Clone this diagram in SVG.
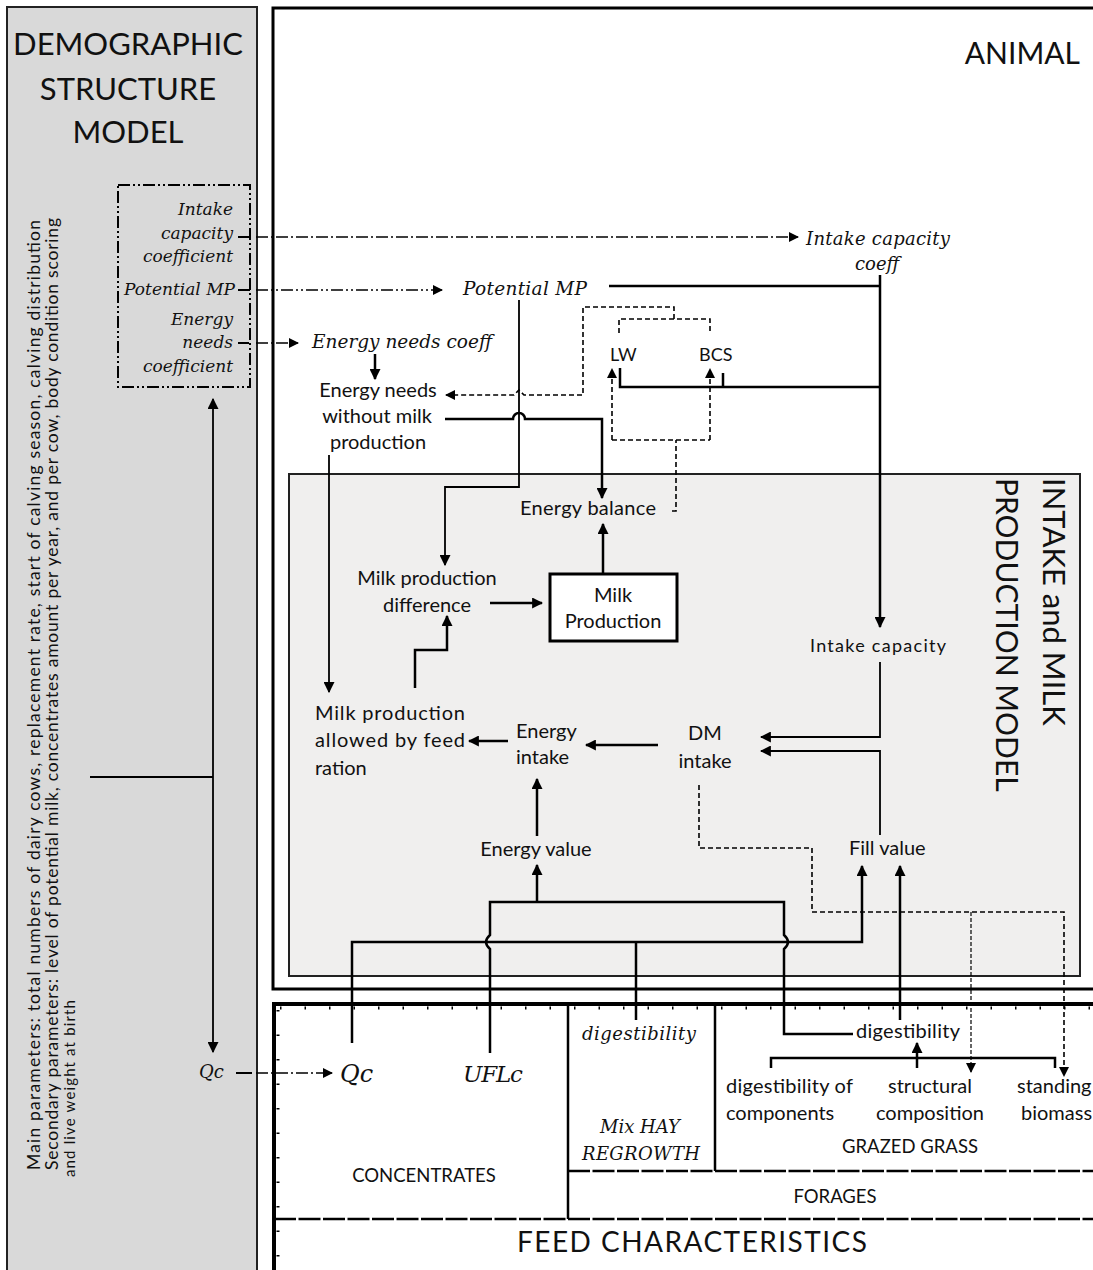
<svg xmlns="http://www.w3.org/2000/svg" width="1093" height="1270" viewBox="0 0 1093 1270">
  <style>
    .sans { font-family: Lato, "Liberation Sans", sans-serif; fill: #111; }
    .ital { font-family: "DejaVu Serif", "Liberation Serif", serif; font-style: italic; fill: #111; }
    .s20 { font-size: 20px; }
    .s18 { font-size: 18px; }
    .mid { text-anchor: middle; }
    .end { text-anchor: end; }
    .solid { fill: none; stroke: #000; stroke-width: 2.5; }
    .thin { fill: none; stroke: #000; stroke-width: 1.8; }
    .dash { fill: none; stroke: #000; stroke-width: 1.6; stroke-dasharray: 5 3; }
    .fine { fill: none; stroke: #000; stroke-width: 1.2; stroke-dasharray: 4 2; }
    .dotdash { fill: none; stroke: #000; stroke-width: 1.6; stroke-dasharray: 12 3 2 3 2 3; }
    .dot1 { fill: none; stroke: #000; stroke-width: 1.6; stroke-dasharray: 12 3 2 3; }
  </style>
  <defs>
    <marker id="arr" viewBox="0 0 10 10" refX="9" refY="5" markerWidth="11" markerHeight="11" markerUnits="userSpaceOnUse" orient="auto-start-reverse">
      <path d="M0,0 L10,5 L0,10 z" fill="#000"/>
    </marker>
    <marker id="arrs" viewBox="0 0 10 10" refX="9" refY="5" markerWidth="10" markerHeight="10" markerUnits="userSpaceOnUse" orient="auto">
      <path d="M0,0 L10,5 L0,10 z" fill="#000"/>
    </marker>
  </defs>

  <rect width="1093" height="1270" fill="#fff"/>

  <!-- Demographic structure panel -->
  <g id="demographic">
    <rect x="7" y="7" width="250" height="1290" fill="#d9d9d9" stroke="#222" stroke-width="2"/>
    <text class="sans" x="128" y="55" font-size="31" text-anchor="middle">DEMOGRAPHIC</text>
    <text class="sans" x="128" y="100" font-size="31" text-anchor="middle">STRUCTURE</text>
    <text class="sans" x="128" y="143" font-size="31" text-anchor="middle">MODEL</text>
    <text class="sans" font-size="17.5" transform="translate(40,1170) rotate(-90)" textLength="950">Main parameters: total numbers of dairy cows, replacement rate, start of calving season, calving distribution</text>
    <text class="sans" font-size="17.5" transform="translate(58,1170) rotate(-90)" textLength="952">Secondary parameters: level of potential milk, concentrates amount per year, and per cow, body condition scoring</text>
    <text class="sans" font-size="15" transform="translate(75,1177) rotate(-90)" textLength="177">and live weight at birth</text>
  </g>

  <!-- Coefficients box -->
  <g id="coefficients">
    <rect x="118" y="185" width="132" height="202" fill="none" stroke="#000" stroke-width="2" stroke-dasharray="12 3 2 3 2 3"/>
    <text class="ital end" font-size="17" x="233" y="215">Intake</text>
    <text class="ital end" font-size="17" x="233" y="239">capacity</text>
    <text class="ital end" font-size="17" x="233" y="262">coefficient</text>
    <text class="ital end" font-size="17" x="235" y="295">Potential MP</text>
    <text class="ital end" font-size="17" x="233" y="325">Energy</text>
    <text class="ital end" font-size="17" x="233" y="348">needs</text>
    <text class="ital end" font-size="17" x="233" y="372">coefficient</text>
  </g>

  <g id="qc-left">
    <text class="ital" font-size="18" x="199" y="1078">Qc</text>
  </g>

  <!-- Animal frame -->
  <g id="animal">
    <rect x="273" y="8" width="830" height="981" fill="#fff" stroke="#000" stroke-width="3"/>
    <text class="sans" x="1080" y="64" font-size="30" text-anchor="end">ANIMAL</text>
  </g>

  <!-- Intake and milk production model frame -->
  <g id="intake-model">
    <rect x="289" y="474" width="791" height="502" fill="#f0efee" stroke="#222" stroke-width="2"/>
    <text class="sans" font-size="31" transform="translate(1043,478) rotate(90)">INTAKE and MILK</text>
    <text class="sans" font-size="30" transform="translate(996,478) rotate(90)">PRODUCTION MODEL</text>
  </g>

  <!-- Feed characteristics frame -->
  <g id="feed">
    <rect x="274" y="1004" width="830" height="280" fill="#fff"/>
    <path d="M272,1004 H1100" stroke="#000" stroke-width="4"/>
    <path d="M274,1002 V1280" stroke="#000" stroke-width="4"/>
    <path d="M280,1008 H1100" stroke="#000" stroke-width="3" stroke-dasharray="1.5 23"/>
    <path d="M278,1010 V1270" stroke="#000" stroke-width="3" stroke-dasharray="1.5 23"/>
    <path d="M568,1004 V1219 M715,1004 V1171" stroke="#000" stroke-width="2.5"/>
    <path d="M568,1171 H1100" stroke="#000" stroke-width="2.5" stroke-dasharray="22 2.5"/>
    <path d="M274,1219 H1100" stroke="#000" stroke-width="2.5" stroke-dasharray="22 2.5"/>
    <text class="sans mid" font-size="18.5" x="424" y="1182">CONCENTRATES</text>
    <text class="ital" font-size="18" x="582" y="1040" textLength="114">digestibility</text>
    <text class="ital mid" font-size="18" x="640" y="1133">Mix HAY</text>
    <text class="ital mid" font-size="18" x="641" y="1160" textLength="118">REGROWTH</text>
    <text class="sans mid" font-size="18.5" x="910" y="1153">GRAZED GRASS</text>
    <text class="sans mid" font-size="18.5" x="835" y="1203">FORAGES</text>
    <text class="sans" font-size="28" x="517" y="1252" textLength="350">FEED CHARACTERISTICS</text>
  </g>

  <g id="n-intake-capacity-coeff">
    <text class="ital" font-size="18" x="806" y="245" textLength="144">Intake capacity</text>
    <text class="ital" font-size="18" x="855" y="270">coeff</text>
  </g>
  <g id="n-potential-mp">
    <text class="ital" font-size="18.5" x="463" y="295" textLength="124">Potential MP</text>
  </g>
  <g id="n-energy-needs-coeff">
    <text class="ital" font-size="18.5" x="312" y="348" textLength="180">Energy needs coeff</text>
  </g>
  <g id="n-energy-needs">
    <text class="sans s20 mid" x="378" y="397">Energy needs</text>
    <text class="sans s20 mid" x="377" y="423">without milk</text>
    <text class="sans s20 mid" x="378" y="449">production</text>
  </g>
  <g id="n-lw">
    <text class="sans s18" x="610" y="361">LW</text>
  </g>
  <g id="n-bcs">
    <text class="sans s18" x="699" y="361">BCS</text>
  </g>
  <g id="n-energy-balance">
    <text class="sans s20" x="520" y="515" textLength="136">Energy balance</text>
  </g>
  <g id="n-milk-production-difference">
    <text class="sans s20 mid" x="427" y="585">Milk production</text>
    <text class="sans s20 mid" x="427" y="612">difference</text>
  </g>
  <g id="n-milk-production">
    <rect x="550" y="574" width="127" height="67" fill="#fff" stroke="#000" stroke-width="3"/>
    <text class="sans s20 mid" x="613" y="602">Milk</text>
    <text class="sans s20 mid" x="613" y="628">Production</text>
  </g>
  <g id="n-milk-allowed">
    <text class="sans s20" x="315" y="720" textLength="150">Milk production</text>
    <text class="sans s20" x="315" y="747" textLength="150">allowed by feed</text>
    <text class="sans s20" x="315" y="775">ration</text>
  </g>
  <g id="n-energy-intake">
    <text class="sans s20" x="516" y="738">Energy</text>
    <text class="sans s20" x="516" y="764">intake</text>
  </g>
  <g id="n-dm-intake">
    <text class="sans s20 mid" x="705" y="740">DM</text>
    <text class="sans s20 mid" x="705" y="768">intake</text>
  </g>
  <g id="n-intake-capacity">
    <text class="sans s18" x="810" y="652" textLength="136">Intake capacity</text>
  </g>
  <g id="n-energy-value">
    <text class="sans s20 mid" x="536" y="856">Energy value</text>
  </g>
  <g id="n-fill-value">
    <text class="sans s20" x="849" y="855">Fill value</text>
  </g>
  <g id="n-qc">
    <text class="ital" font-size="24" x="340" y="1082">Qc</text>
  </g>
  <g id="n-uflc">
    <text class="ital" font-size="23" x="463" y="1082" textLength="60">UFLc</text>
  </g>
  <g id="n-grass-digestibility">
    <text class="sans s20" x="856" y="1038" textLength="104">digestibility</text>
  </g>
  <g id="n-digestibility-components">
    <text class="sans s20" x="726" y="1093" textLength="127">digestibility of</text>
    <text class="sans s20" x="726" y="1120">components</text>
  </g>
  <g id="n-structural-composition">
    <text class="sans s20 mid" x="930" y="1093">structural</text>
    <text class="sans s20 mid" x="930" y="1120">composition</text>
  </g>
  <g id="n-standing-biomass">
    <text class="sans s20" x="1017" y="1093">standing</text>
    <text class="sans s20" x="1021" y="1120">biomass</text>
  </g>

  <!-- Connectors -->
  <g id="connectors">
    <!-- demographic links -->
    <path class="thin" d="M213,399 V1052" marker-start="url(#arr)" marker-end="url(#arr)"/>
    <path class="thin" d="M90,777 H213"/>
    <path class="thin" d="M238,237 H249 M238,290 H250 M238,343 H249 M236,1073 H252"/>
    <path class="dot1" d="M256,237 H798" marker-end="url(#arrs)"/>
    <path class="dotdash" d="M256,290 H442" marker-end="url(#arrs)"/>
    <path class="dot1" d="M256,343 H298" marker-end="url(#arrs)"/>
    <path class="dot1" d="M256,1073 H332" marker-end="url(#arrs)"/>

    <!-- potential MP / intake capacity coeff -->
    <path class="solid" d="M609,286 H880"/>
    <path class="solid" d="M880,275 V627" marker-end="url(#arr)"/>
    <path class="solid" d="M620,368 V387 H880 M723,373 V387"/>
    <path class="thin" d="M519,300 V487 H445 V565" marker-end="url(#arr)"/>

    <!-- energy needs -->
    <path class="solid" d="M375,354 V379" marker-end="url(#arr)"/>
    <path class="solid" d="M445,419 H513 A6,6 0 0 1 525,419 H602 V498" marker-end="url(#arr)"/>
    <path class="thin" d="M329,455 V692" marker-end="url(#arr)"/>

    <!-- LW / BCS feedback -->
    <path class="dash" d="M619,333 V319 H710 V333"/>
    <path class="dash" d="M674,319 V307 H583 V395 H524 L519,390 L514,395 H446" marker-end="url(#arrs)"/>
    <path class="dash" d="M672,511 H676 V440 M612,440 H710"/>
    <path class="dash" d="M612,440 V369" marker-end="url(#arrs)"/>
    <path class="dash" d="M710,440 V369" marker-end="url(#arrs)"/>

    <!-- milk production loop -->
    <path class="solid" d="M603,573 V524" marker-end="url(#arr)"/>
    <path class="solid" d="M490,603 H542" marker-end="url(#arr)"/>
    <path class="solid" d="M415,688 V650 H447 V616" marker-end="url(#arr)"/>
    <path class="solid" d="M508,741 H469" marker-end="url(#arr)"/>
    <path class="solid" d="M658,745 H586" marker-end="url(#arr)"/>
    <path class="solid" d="M537,836 V779" marker-end="url(#arr)"/>

    <!-- DM intake inputs -->
    <path class="thin" d="M880,662 V737 H761" marker-end="url(#arr)"/>
    <path class="thin" d="M880,835 V751 H761" marker-end="url(#arr)"/>

    <!-- feed value links -->
    <path class="solid" d="M490,1053 V949 Q482,942 490,935 V902 H784 V935 Q792,942 784,949 V1034 H853"/>
    <path class="solid" d="M537,902 V865" marker-end="url(#arr)"/>
    <path class="solid" d="M352,1043 V942 H862 V866" marker-end="url(#arr)"/>
    <path class="solid" d="M636,942 V1020"/>
    <path class="solid" d="M900,1020 V866" marker-end="url(#arr)"/>
    <path class="solid" d="M771,1068 V1058 H1055 V1068"/>
    <path class="solid" d="M917,1068 V1043" marker-end="url(#arr)"/>

    <!-- DM intake to grass -->
    <path class="dash" d="M699,785 V848 H812 V912 H1064 V1076" marker-end="url(#arrs)"/>
    <path class="fine" d="M971,912 V1072" marker-end="url(#arrs)"/>
  </g>
</svg>
